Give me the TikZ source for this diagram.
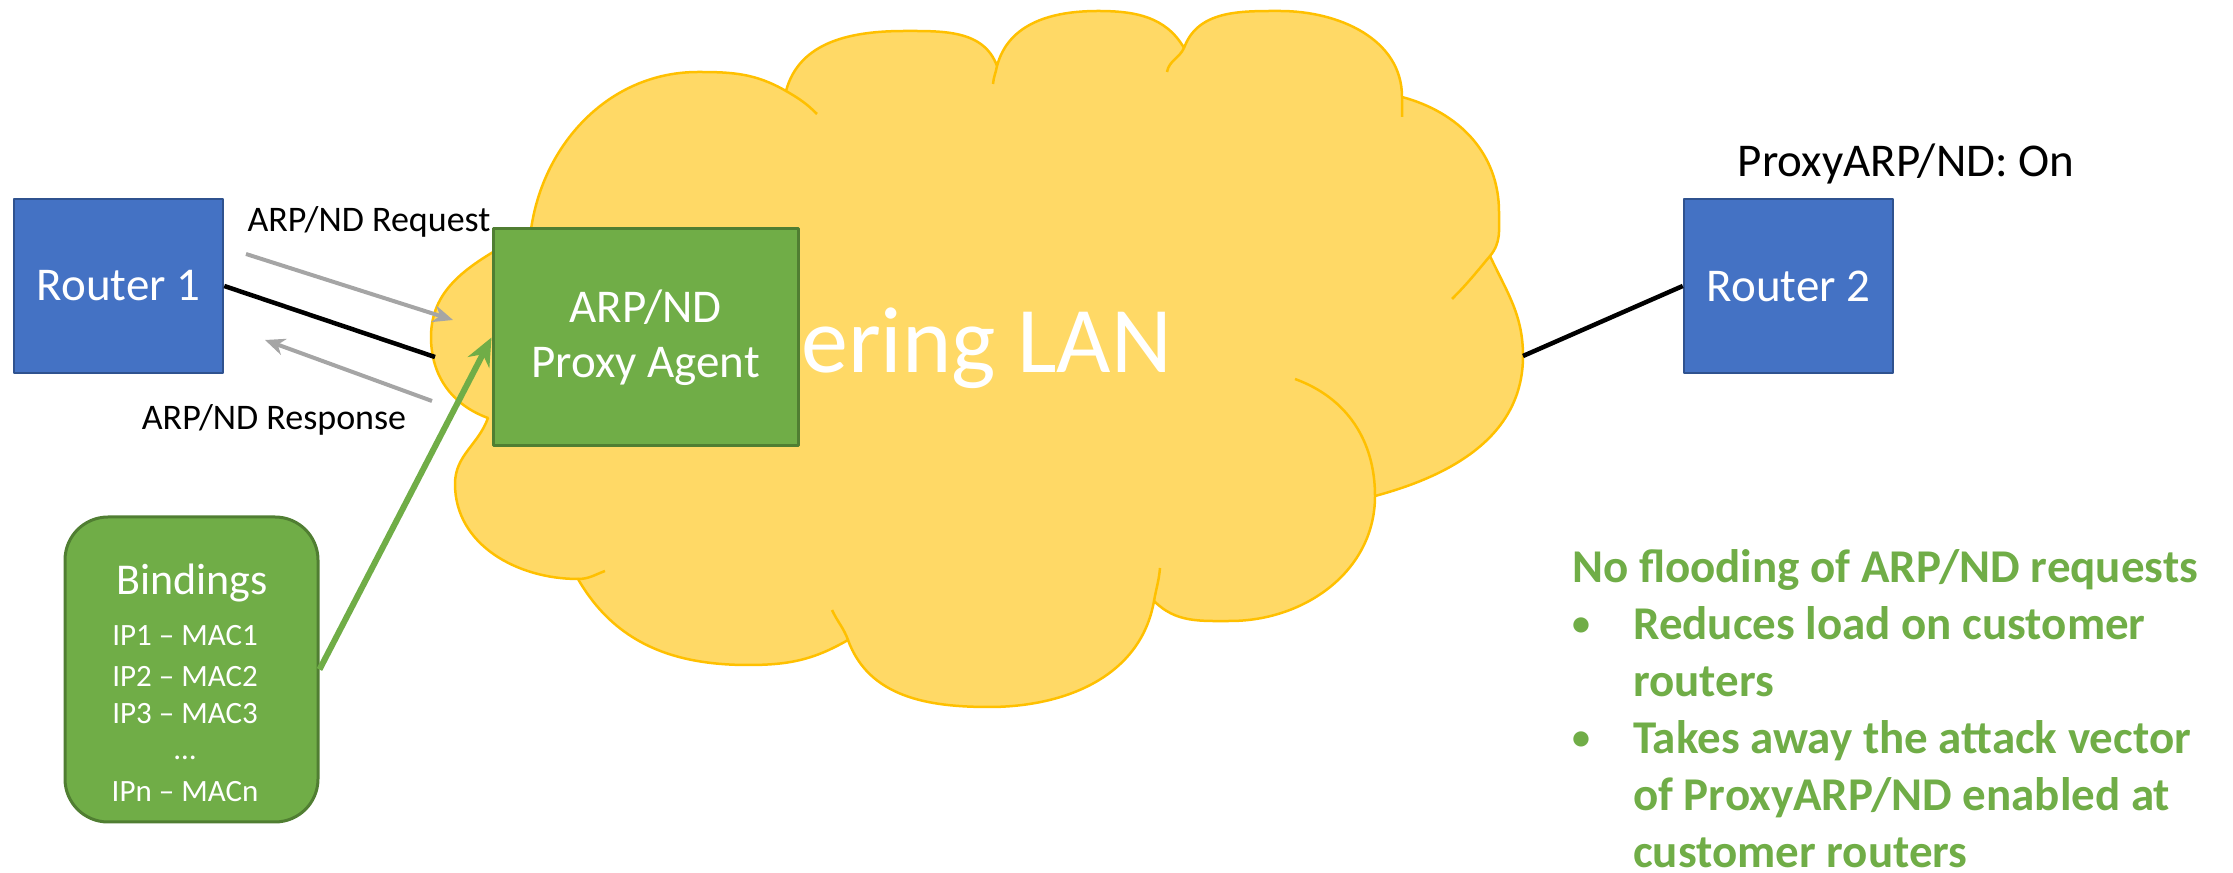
\documentclass[tikz,border=0pt]{standalone}
\usepackage{fontspec}
\setmainfont{Carlito}
\usepackage{tikz}
\usetikzlibrary{arrows.meta,shapes}

\begin{document}
\begin{tikzpicture}[>=latex,line join=bevel,
  router/.style={draw=routerline,fill=routerfill,line width=2.5bp,minimum width=209bp,minimum height=174bp,inner sep=0bp,text=white,font=\fontsize{47bp}{57bp}\selectfont},
  agent/.style={draw=agentline,fill=agentfill,line width=3bp,minimum width=305bp,minimum height=217bp,inner sep=0bp,text=white,align=center,font=\fontsize{47bp}{55bp}\selectfont},
  bindbox/.style={draw=agentline,fill=agentfill,line width=3bp,rounded corners=43bp,minimum width=253bp,minimum height=305bp},
  bindline/.style={inner sep=0bp,anchor=base,text=white,font=\fontsize{31bp}{37bp}\selectfont},
  lbl/.style={inner sep=0bp,anchor=base,font=\fontsize{36bp}{43bp}\selectfont},
  msg/.style={draw=msggray,line width=4bp,-{Stealth[length=20bp,width=17bp]}},
  wire/.style={draw=black,line width=4.5bp},
  lanedge/.style={draw=lanline,line width=2.5bp},
  ]
  \definecolor{routerfill}{HTML}{4472C4}
  \definecolor{routerline}{HTML}{2F528F}
  \definecolor{agentfill}{HTML}{70AD47}
  \definecolor{agentline}{HTML}{507E32}
  \definecolor{lanfill}{HTML}{FFD966}
  \definecolor{lanline}{HTML}{FFC000}
  \definecolor{msggray}{HTML}{A5A5A5}
  \newcommand{\notebullet}{\makebox[61bp][l]{\raisebox{4bp}{\fontsize{36bp}{36bp}\selectfont•}}}
  \useasboundingbox (0bp,0bp) rectangle (2233bp,873bp);
%%
  % Node: lan
  \path[lanedge,fill=lanfill]
    (529bp,615bp) to[out=90,in=180] (698bp,801bp) to[out=0,in=150] (786bp,782bp)
    to[out=75,in=180] (905bp,842bp) to[out=0,in=110] (997bp,807bp)
    to[out=75,in=180] (1098bp,862bp) to[out=0,in=120] (1184bp,825bp)
    to[out=70,in=180] (1280bp,862bp) to[out=0,in=90] (1402bp,776bp)
    to[out=-15,in=90] (1499bp,661bp) to[out=-90,in=50] (1490bp,617bp)
    to[out=-65,in=90] (1523bp,517bp) to[out=-90,in=15] (1375bp,377bp)
    to[out=-90,in=0] (1230bp,252bp) to[out=180,in=-45] (1154bp,272bp)
    to[out=-100,in=0] (989bp,166bp) to[out=180,in=-70] (848bp,233bp)
    to[out=-150,in=0] (748bp,208bp) to[out=180,in=-60] (578bp,294bp)
    to[out=180,in=-90] (455bp,389bp) to[out=90,in=-110] (488bp,455bp)
    to[out=160,in=-90] (431bp,536bp) to[out=90,in=-150] (505bp,628bp) -- cycle;
  \path[lanedge]
    (786bp,782bp) to[out=-30,in=135] (817bp,759bp)
    (993bp,789bp) to[out=85,in=-100] (997bp,807bp)
    (1167bp,801bp) to[out=80,in=-115] (1184bp,825bp)
    (1402bp,776bp) -- (1402bp,756bp)
    (1490bp,617bp) to[out=-130,in=45] (1452bp,574bp)
    (1295bp,494bp) to[out=-20,in=90] (1375bp,377bp)
    (1154bp,272bp) to[out=80,in=-95] (1160bp,305bp)
    (848bp,233bp) to[out=110,in=-65] (832bp,263bp)
    (578bp,294bp) to[out=0,in=-160] (605bp,302bp);
  \node[inner sep=0bp,anchor=base east,text=white,font=\fontsize{94bp}{110bp}\selectfont] (lantext) at (1172bp,500bp) {Peering LAN};
  \coordinate (lanL) at (435bp,516bp);
  \coordinate (lanR) at (1523bp,517bp);
  % Node: r1, r2
  \node[router] (r1) at (118.5bp,587bp) {Router 1};
  \node[router] (r2) at (1788.5bp,587bp) {Router 2};
  \node[lbl] (r2mode) at (1906bp,696bp) {\fontsize{47bp}{57bp}\selectfont ProxyARP/ND: On};
  % Edge: r1 -- lan -- r2
  \draw[wire] (r1.east) -- (lanL);
  \draw[wire] (lanR) -- (r2.west);
  % Node: agent
  \node[agent] (agent) at (645.5bp,535.5bp) {ARP/ND\\Proxy Agent};
  % Edge: request / response
  \coordinate (reqA) at (246bp,619bp);
  \coordinate (reqB) at (453bp,553bp);
  \coordinate (resA) at (432bp,472bp);
  \coordinate (resB) at (265bp,533bp);
  \draw[msg] (reqA) -- (reqB);
  \draw[msg] (resA) -- (resB);
  \node[lbl] (reqtext) at (369bp,641bp) {ARP/ND Request};
  \node[lbl] (restext) at (274bp,443bp) {ARP/ND Response};
  % Node: bind
  \node[bindbox] (bind) at (191.5bp,203.5bp) {};
  \node[bindline,font=\fontsize{44bp}{50bp}\selectfont] (bindtitle) at (192bp,278bp) {Bindings};
  \node[bindline] (b1) at (185bp,227bp) {IP1 – MAC1};
  \node[bindline] (b2) at (185bp,186bp) {IP2 – MAC2};
  \node[bindline] (b3) at (185bp,149bp) {IP3 – MAC3};
  \node[bindline] (b4) at (185bp,113bp) {…};
  \node[bindline] (bn) at (185bp,71bp) {IPn – MACn};
  % Edge: bind -> agent
  \draw[draw=agentfill,line width=6bp,-{Stealth[length=28bp,width=24bp]}] (bind.east) -- (agent.west);
  % Node: note
  \node[anchor=base west,inner sep=0bp,align=left,text=agentfill,font=\bfseries\fontsize{47bp}{57bp}\selectfont] (note) at (1572bp,6bp)
    {No flooding of ARP/ND requests\\
     \notebullet Reduces load on customer\\
     \hspace*{61bp}routers\\
     \notebullet Takes away the attack vector\\
     \hspace*{61bp}of ProxyARP/ND enabled at\\
     \hspace*{61bp}customer routers};
%
\end{tikzpicture}
\end{document}
